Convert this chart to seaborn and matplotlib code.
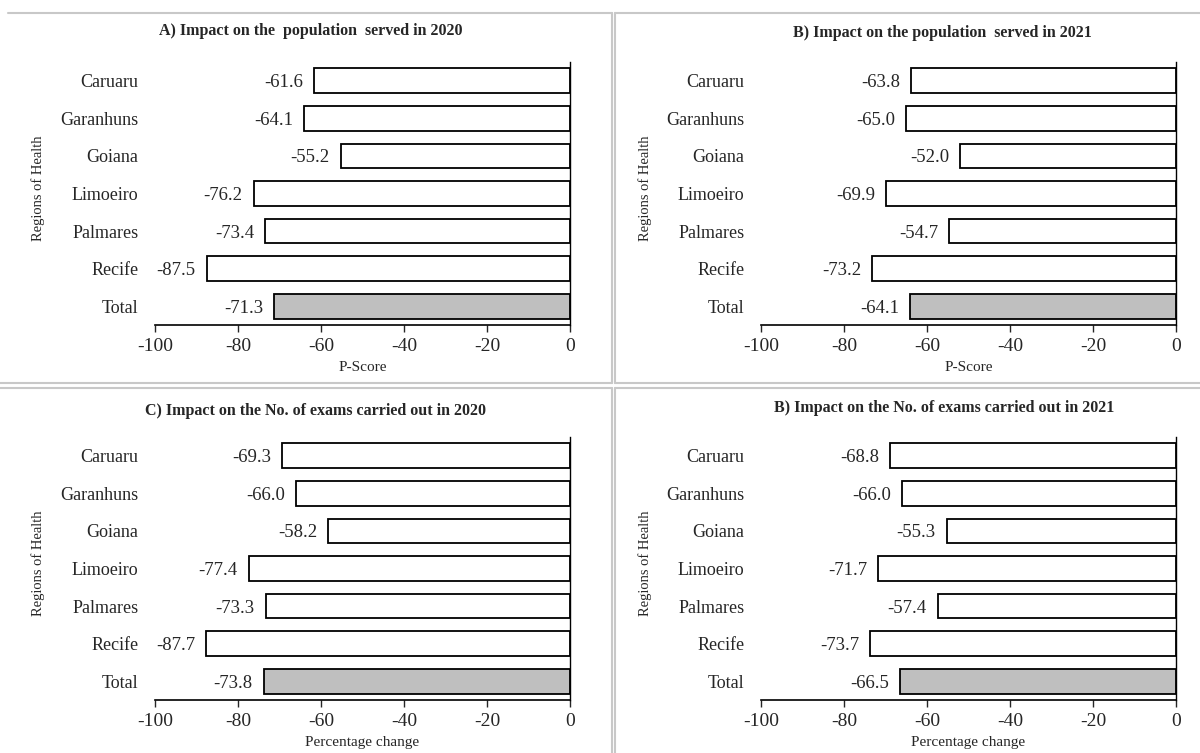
import numpy as np
import pandas as pd
import seaborn as sns
import matplotlib.pyplot as plt
from matplotlib.lines import Line2D

# -----------------------------
# Data
# -----------------------------
regions = ["Caruaru", "Garanhuns", "Goiana", "Limoeiro", "Palmares", "Recife", "Total"]

pop_2020 = [-61.6, -64.1, -55.2, -76.2, -73.4, -87.5, -71.3]
pop_2021 = [-63.8, -65.0, -52.0, -69.9, -54.7, -73.2, -64.1]
exams_2020 = [-69.3, -66.0, -58.2, -77.4, -73.3, -87.7, -73.8]
exams_2021 = [-68.8, -66.0, -55.3, -71.7, -57.4, -73.7, -66.5]

titles = [
    "A) Impact on the  population  served in 2020",
    "B) Impact on the population  served in 2021",
    "C) Impact on the No. of exams carried out in 2020",
    "B) Impact on the No. of exams carried out in 2021",
]
xlabels = ["P-Score", "P-Score", "Percentage change", "Percentage change"]
xticks = [-100, -80, -60, -40, -20, 0]

# -----------------------------
# Style
# -----------------------------
sns.set_style("white")
plt.rcParams['font.family'] = ['Liberation Serif', 'DejaVu Serif']

W, H = 1200, 753
fig = plt.figure(figsize=(12, 7.53), dpi=100)

def px_box(x0, y0, x1, y1):
    # image pixel box -> figure fraction [left, bottom, width, height]
    return [x0 / W, 1 - y1 / H, (x1 - x0) / W, (y1 - y0) / H]

# light gray panel borders (as in the source document)
border_segments = [
    ((8, 612), (13, 13)),      # top of A
    ((612, 612), (13, 383)),   # right of A
    ((0, 612), (383, 383)),    # bottom of A
    ((615, 1200), (13, 13)),   # top of B
    ((615, 615), (13, 383)),   # left of B
    ((615, 1200), (383, 383)), # bottom of B
    ((0, 612), (388, 388)),    # top of C
    ((612, 612), (388, 753)),  # right of C
    ((615, 1200), (388, 388)), # top of D
    ((615, 615), (388, 753)),  # left of D
]
for xs, ys in border_segments:
    fig.lines.append(Line2D([x / W for x in xs], [1 - y / H for y in ys],
                            transform=fig.transFigure, color="#c8c8c8", lw=1.5))

axes_boxes = [(155, 62, 570, 325), (761, 62, 1176, 325),
              (155, 437, 570, 700), (761, 437, 1176, 700)]
title_pos = [(311, 31), (942, 33), (316, 411), (944, 408)]
ylabel_x = [38, 645, 38, 645]

data = [pop_2020, pop_2021, exams_2020, exams_2021]
palette = ["white"] * 6 + ["#bfbfbf"]

for i, vals in enumerate(data):
    ax = fig.add_axes(px_box(*axes_boxes[i]))
    df = pd.DataFrame({"Region": regions, "Value": vals})
    sns.barplot(data=df, x="Value", y="Region", hue="Region", palette=palette,
                orient="h", width=0.66, edgecolor="black", linewidth=1.3,
                legend=False, ax=ax)
    ax.set_xlim(-100, 0)
    ax.set_ylim(6.5, -0.5)

    # value labels to the left of each bar
    for j, v in enumerate(vals):
        ax.annotate(f"{v:.1f}", xy=(v, j), xytext=(-8, 0), textcoords="offset points",
                    ha="right", va="center_baseline", fontsize=13.5)

    ax.set_xticks(xticks)
    ax.set_xticklabels([str(t) for t in xticks], fontsize=14)
    ax.tick_params(axis="x", direction="out", length=5, width=1, pad=4, bottom=True)
    ax.tick_params(axis="y", length=0, pad=12, labelsize=13)

    for s in ["top", "left"]:
        ax.spines[s].set_visible(False)
    ax.spines["right"].set_color("black")
    ax.spines["bottom"].set_color("black")
    ax.spines["right"].set_linewidth(1)
    ax.spines["bottom"].set_linewidth(1.2)

    ax.set_xlabel(xlabels[i], fontsize=11, labelpad=5)
    ax.set_ylabel("")

    tx, ty = title_pos[i]
    fig.text(tx / W, 1 - ty / H, titles[i], ha="center", va="center",
             fontsize=11.5, fontweight="bold")
    cy = (axes_boxes[i][1] + axes_boxes[i][3]) / 2 - 5
    fig.text(ylabel_x[i] / W, 1 - cy / H, "Regions of Health", rotation=90,
             ha="center", va="center", fontsize=10.5)

plt.savefig("out.png", dpi=100)
